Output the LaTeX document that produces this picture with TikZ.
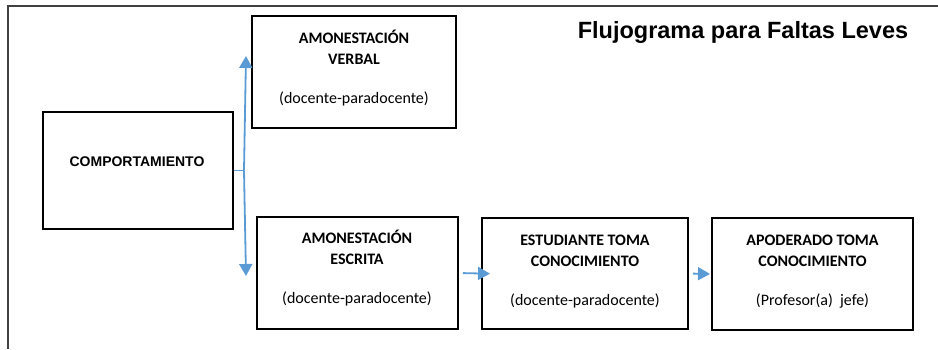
\documentclass[tikz,border=0pt]{standalone}
\usepackage{fontspec}
\setmainfont{Liberation Sans}
\newfontfamily\calibri{Carlito}
\usetikzlibrary{arrows.meta,positioning}
\definecolor{azul}{HTML}{5B9BD5}

\begin{document}
\begin{tikzpicture}
                    [x=1pt,y=-1pt,>={Triangle[length=12pt,width=13pt]},
                     caja/.style={draw,line width=2pt,inner sep=0pt},
                     texto/.style={align=center,anchor=base,inner sep=0pt,font=\calibri\fontsize{16pt}{20.5pt}\selectfont},
                     flecha/.style={draw=azul,fill=azul,line width=1.8pt,->}]

                    \useasboundingbox (0,0) rectangle (938,349);
                    \draw[line width=1.2pt,black!75] (8,349) -- (8,6) -- (938,6);

                    \node[anchor=base,font=\bfseries\fontsize{23.5pt}{28pt}\selectfont] (titulo) at (743,38) {Flujograma para Faltas Leves};

                    % cajas
                    \node[caja,minimum width=190pt,minimum height=117pt] (comp) at (138,170.5) {};
                    \node[caja,minimum width=204pt,minimum height=112pt] (verbal) at (354,72) {};
                    \node[caja,minimum width=201pt,minimum height=112pt] (escrita) at (357.5,273) {};
                    \node[caja,minimum width=206pt,minimum height=111pt] (estud) at (585,273.5) {};
                    \node[caja,minimum width=201pt,minimum height=112pt] (apod) at (812.5,274) {};

                    % el ancla base queda en la ultima linea
                    \node[anchor=base,font=\bfseries\fontsize{14pt}{17pt}\selectfont] (comptxt) at (137,166) {COMPORTAMIENTO};
                    \node[texto] (verbaltxt) at (354,103.5) {\textbf{AMONESTACIÓN}\\\textbf{VERBAL}\\[19pt](docente-paradocente)};
                    \node[texto] (escritatxt) at (357,303.5) {\textbf{AMONESTACIÓN}\\\textbf{ESCRITA}\\[19pt](docente-paradocente)};
                    \node[texto] (estudtxt) at (585,305.5) {\textbf{ESTUDIANTE TOMA}\\\textbf{CONOCIMIENTO}\\[19pt](docente-paradocente)};
                    \node[texto] (apodtxt) at (812.5,305.5) {\textbf{APODERADO TOMA}\\\textbf{CONOCIMIENTO}\\[19pt](Profesor(a)\ \ jefe)};

                    % flechas
                    \coordinate (split) at (244,170.5);
                    \coordinate (arriba) at (246,56);
                    \coordinate (abajo) at (246,276);
                    \draw[flecha,-] (comp.east) -- (split);
                    \draw[flecha] (split) -- (arriba);
                    \draw[flecha] (split) -- (abajo);
                    \draw[flecha,shorten <=4pt,shorten >=-9pt] (escrita.east) -- (estud.west);
                    \draw[flecha,shorten <=4pt,shorten >=1pt] (estud.east) -- (apod.west);
                \end{tikzpicture}
\end{document}
